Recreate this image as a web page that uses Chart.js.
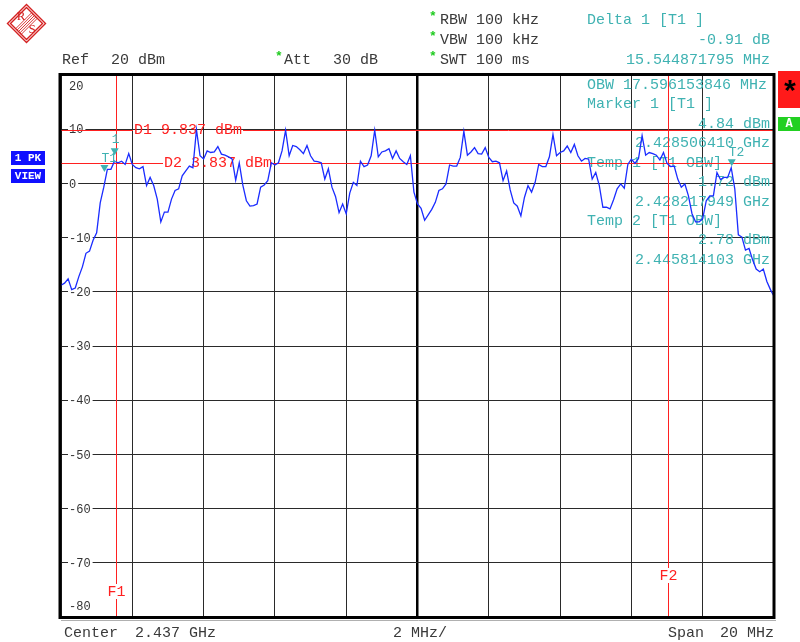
<!DOCTYPE html>
<html>
<head>
<meta charset="utf-8">
<script src="https://cdn.jsdelivr.net/npm/chart.js@4.4.1/dist/chart.umd.min.js"></script>
<style>
  html, body { margin: 0; padding: 0; background: #fff; }
  canvas { display: block; }
</style>
</head>
<body>
<canvas id="sa" width="800" height="642"></canvas>
<script>
// spectrum trace, 0.1 MHz steps from 2427 to 2447 MHz
const startMHz = 2427;
const stepMHz = 0.1;
const levels = [
  -18.8,
  -18.4, -17.6, -19.6, -19.3, -17.2, -15.4, -12.9, -12.5, -10.5, -9.1,
  -3.6, -0.7, 2.6, 2.6, 4.1, 3.8, 4.1, 3.5, 5.5, 3.5,
  2.9, 2.7, 3.1, -0.4, 1.1, -0.4, -2.9, -7.1, -5.3, -5.3,
  -2.9, -1.3, -1.0, 1.4, 2.3, 3.2, 2.9, 9.9, 5.1, 4.5,
  6.0, 5.7, 5.8, 6.8, 5.4, 5.2, 4.9, 4.5, 0.6, 3.8,
  -0.3, -3.2, -4.2, -4.1, -3.8, -0.7, -0.3, 0.5, 3.8, 3.4,
  3.8, 6.0, 9.8, 5.1, 7.0, 6.8, 6.2, 5.5, 7.0, 5.1,
  4.1, 4.0, 3.8, 0.8, 2.7, -0.7, -2.4, -5.4, -3.8, -5.6,
  -1.8, 0.2, -0.4, 4.1, 3.1, 3.4, 5.1, 9.8, 4.9, 5.8,
  6.0, 6.4, 4.6, 6.0, 4.6, 4.0, 3.5, 5.1, -1.6, -3.8,
  -4.6, -6.8, -5.8, -4.8, -3.5, -1.3, -1.0, -0.1, 3.4, 3.2,
  3.2, 4.8, 9.6, 5.2, 5.8, 6.6, 5.5, 5.4, 6.6, 4.8,
  4.0, 4.1, 3.8, 0.5, 2.3, -1.2, -3.6, -4.2, -6.0, -2.6,
  -0.4, -1.6, 0.2, 3.5, 3.1, 3.1, 4.9, 9.0, 5.1, 5.7,
  6.0, 6.9, 5.7, 7.2, 5.1, 4.1, 4.6, 4.5, 0.8, 2.0,
  -0.4, -4.4, -4.4, -4.7, -3.0, -1.0, -0.1, -0.9, 3.5, 4.5,
  3.7, 4.6, 8.8, 5.2, 5.7, 5.5, 5.2, 4.3, 5.7, 3.7,
  3.1, 3.2, 0.8, -0.7, -0.1, -2.3, -5.6, -7.1, -7.1, -6.5,
  -3.2, -2.3, -2.3, 2.0, 0.7, 1.1, 1.1, 2.9, -1.0, -9.5,
  -9.9, -12.3, -12.0, -14.1, -15.8, -16.3, -15.8, -18.1, -19.6, -20.8
];
const freqs = levels.map((_, i) => startMHz + i * stepMHz);

const yTicks = [20, 10, 0, -10, -20, -30, -40, -50, -60, -70, -80];

// display lines and markers
const dLines = [
  { name: 'D1', level: 9.837, label: 'D1 9.837 dBm', labelX: 134 },
  { name: 'D2', level: 3.837, label: 'D2 3.837 dBm', labelX: 164 }
];
const fLines = [
  { name: 'F1', freq: 2428.53, labelY: 592 },
  { name: 'F2', freq: 2444.03, labelY: 576 }
];
const markers = [
  { label: '1', freq: 2428.506410, level: 4.84 },
  { label: 'T1', freq: 2428.217949, level: 1.72 },
  { label: 'T2', freq: 2445.814103, level: 2.78 }
];

const headerLeft = [
  ['Ref', 62, 60], ['20 dBm', 111, 60],
  ['Att', 284, 60], ['30 dB', 333, 60],
  ['RBW 100 kHz', 440, 20], ['VBW 100 kHz', 440, 40], ['SWT 100 ms', 440, 60]
];
const starPos = [[276, 60], [430, 20], [430, 40], [430, 60]];
const infoText = [
  ['Delta 1 [T1 ]', 'L', 20], ['-0.91 dB', 'R', 40], ['15.544871795 MHz', 'R', 60],
  ['OBW 17.596153846 MHz', 'L', 85], ['Marker 1 [T1 ]', 'L', 104],
  ['4.84 dBm', 'R', 124], ['2.428506410 GHz', 'R', 143],
  ['Temp 1 [T1 OBW]', 'L', 163], ['1.72 dBm', 'R', 182], ['2.428217949 GHz', 'R', 202],
  ['Temp 2 [T1 OBW]', 'L', 221], ['2.78 dBm', 'R', 240], ['2.445814103 GHz', 'R', 260]
];
const footer = [['Center', 64], ['2.437 GHz', 135], ['2 MHz/', 393], ['Span', 668], ['20 MHz', 720]];

const MONO = '"Liberation Mono", "DejaVu Sans Mono", monospace';
const TEAL = '#3fb2b2';
const RED = '#ff2020';

const overlay = {
  id: 'analyzerOverlay',
  beforeDatasetsDraw(chart) {
    const { ctx, chartArea: a, scales: { x, y } } = chart;
    ctx.save();
    // y labels inside the grid
    ctx.font = '12px ' + MONO;
    ctx.textBaseline = 'middle';
    yTicks.forEach(v => {
      let py = y.getPixelForValue(v);
      if (v === 20) py += 11;
      if (v === -80) py -= 11;
      const w = ctx.measureText(String(v)).width;
      ctx.fillStyle = '#fff';
      ctx.fillRect(68, py - 6, w + 3, 12);
      ctx.fillStyle = '#333';
      ctx.fillText(String(v), 69, py + 1);
    });
    // info block inside the plot
    ctx.font = '15px ' + MONO;
    ctx.fillStyle = TEAL;
    infoText.slice(3).forEach(([t, al, py]) => {
      ctx.textAlign = al === 'L' ? 'left' : 'right';
      ctx.fillText(t, al === 'L' ? 587 : 770, py);
    });
    // display lines
    ctx.strokeStyle = RED;
    ctx.lineWidth = 1;
    ctx.textAlign = 'left';
    dLines.forEach(d => {
      const py = Math.round(y.getPixelForValue(d.level)) + 0.5;
      const w = ctx.measureText(d.label).width;
      ctx.beginPath();
      ctx.moveTo(a.left, py); ctx.lineTo(d.labelX - 1, py);
      ctx.moveTo(d.labelX + w + 1, py); ctx.lineTo(a.right, py);
      ctx.stroke();
      ctx.fillStyle = RED;
      ctx.fillText(d.label, d.labelX, py);
    });
    ctx.textAlign = 'center';
    fLines.forEach(f => {
      const px = Math.round(x.getPixelForValue(f.freq)) + 0.5;
      ctx.beginPath();
      ctx.moveTo(px, a.top); ctx.lineTo(px, f.labelY - 8);
      ctx.moveTo(px, f.labelY + 7); ctx.lineTo(px, a.bottom);
      ctx.stroke();
      ctx.fillStyle = RED;
      ctx.fillText(f.name, px, f.labelY);
    });
    ctx.restore();
  },
  afterDatasetsDraw(chart) {
    const { ctx, chartArea: a, scales: { x, y } } = chart;
    ctx.save();
    // markers
    markers.forEach(m => {
      const px = x.getPixelForValue(m.freq);
      const py = y.getPixelForValue(m.level) - 2;
      ctx.fillStyle = TEAL;
      ctx.beginPath();
      ctx.moveTo(px - 4, py - 7); ctx.lineTo(px + 4, py - 7); ctx.lineTo(px, py);
      ctx.closePath(); ctx.fill();
      ctx.font = '13px ' + MONO;
      ctx.textBaseline = 'alphabetic';
      if (m.label === '1') { ctx.textAlign = 'center'; ctx.fillText('1', px + 1, py - 12); }
      else { ctx.textAlign = 'left'; ctx.fillText(m.label, px - 3, py - 10); }
    });
    // frame
    ctx.strokeStyle = '#000';
    ctx.lineWidth = 3;
    ctx.strokeRect(a.left - 1, a.top - 0.5, a.right - a.left + 1, a.bottom - a.top + 1);
    ctx.strokeStyle = '#b0b0b0';
    ctx.lineWidth = 1;
    ctx.beginPath();
    ctx.moveTo(a.left, a.bottom + 3.5); ctx.lineTo(a.right + 2, a.bottom + 3.5);
    ctx.stroke();
    ctx.restore();
  },
  afterDraw(chart) {
    const { ctx } = chart;
    ctx.save();
    ctx.textBaseline = 'middle';
    ctx.font = '15px ' + MONO;
    ctx.fillStyle = '#3a3a3a';
    ctx.textAlign = 'left';
    headerLeft.forEach(([t, px, py]) => ctx.fillText(t, px, py));
    footer.forEach(([t, px]) => ctx.fillText(t, px, 633));
    ctx.fillStyle = TEAL;
    infoText.slice(0, 3).forEach(([t, al, py]) => {
      ctx.textAlign = al === 'L' ? 'left' : 'right';
      ctx.fillText(t, al === 'L' ? 587 : 770, py);
    });
    // green stars
    ctx.font = 'bold 13px ' + MONO;
    ctx.fillStyle = '#1ecb1e';
    ctx.textAlign = 'center';
    starPos.forEach(([px, py]) => ctx.fillText('*', px + 3, py - 3));

    // side boxes
    ctx.fillStyle = '#1010ff';
    ctx.fillRect(11, 151, 34, 14);
    ctx.fillRect(11, 169, 34, 14);
    ctx.fillStyle = '#fff';
    ctx.font = 'bold 11px ' + MONO;
    ctx.fillText('1 PK', 28, 158);
    ctx.fillText('VIEW', 28, 176);
    ctx.fillStyle = '#ff1a1a';
    ctx.fillRect(778, 71, 22, 37);
    ctx.fillStyle = '#000';
    ctx.font = 'bold 30px ' + MONO;
    ctx.fillText('*', 790, 94);
    ctx.fillStyle = '#22d022';
    ctx.fillRect(778, 117, 22, 14);
    ctx.fillStyle = '#fff';
    ctx.font = 'bold 12px ' + MONO;
    ctx.fillText('A', 789, 124);

    // R&S logo
    const cx = 26.5, cy = 23.5;
    ctx.strokeStyle = '#d42020';
    ctx.lineWidth = 1.4;
    [19, 16].forEach(r => {
      ctx.beginPath();
      ctx.moveTo(cx, cy - r); ctx.lineTo(cx + r, cy); ctx.lineTo(cx, cy + r); ctx.lineTo(cx - r, cy);
      ctx.closePath(); ctx.stroke();
    });
    ctx.lineWidth = 0.9;
    for (let k = -2; k <= 2; k++) {
      ctx.beginPath();
      ctx.moveTo(cx + 8 + k * 1.4, cy - 8 + k * 1.4);
      ctx.lineTo(cx - 8 + k * 1.4, cy + 8 + k * 1.4);
      ctx.stroke();
    }
    ctx.fillStyle = '#d42020';
    ctx.font = '13px "Liberation Serif", serif';
    ctx.fillText('R', 21, 17);
    ctx.fillText('S', 32, 30);
    ctx.restore();
  }
};

new Chart(document.getElementById('sa').getContext('2d'), {
  type: 'line',
  data: {
    datasets: [{
      data: freqs.map((f, i) => ({ x: f, y: levels[i] })),
      borderColor: '#1a2cff',
      borderWidth: 1.3,
      pointRadius: 0,
      tension: 0,
      fill: false
    }]
  },
  options: {
    responsive: false,
    animation: false,
    devicePixelRatio: 1,
    layout: { padding: { left: 61, top: 75, right: 26, bottom: 25 } },
    plugins: { legend: { display: false }, tooltip: { enabled: false } },
    scales: {
      x: {
        type: 'linear', min: 2427, max: 2447,
        ticks: { display: false, stepSize: 2 },
        grid: {
          drawTicks: false,
          color: c => c.tick && c.tick.value === 2437 ? '#000' : '#2a2a2a',
          lineWidth: c => c.tick && c.tick.value === 2437 ? 2.5 : 1
        },
        border: { display: false }
      },
      y: {
        min: -80, max: 20,
        ticks: { display: false, stepSize: 10 },
        grid: { drawTicks: false, color: '#2a2a2a', lineWidth: 1 },
        border: { display: false }
      }
    }
  },
  plugins: [overlay]
});
</script>
</body>
</html>
